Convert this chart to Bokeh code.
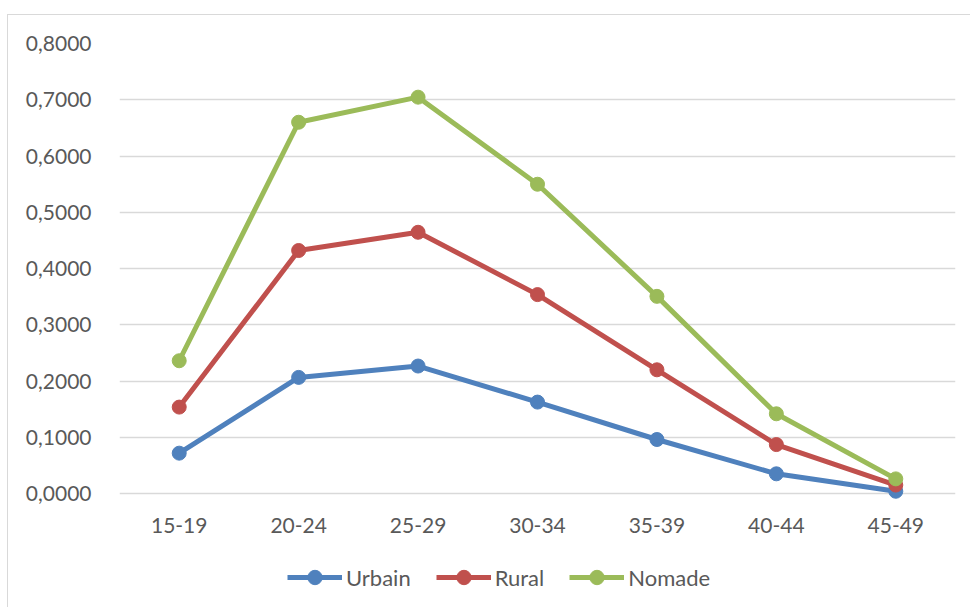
from bokeh.plotting import figure
from bokeh.models import Range1d, FactorRange, FixedTicker, CustomJSTickFormatter, Legend, LegendItem
from bokeh.core.properties import value
from bokeh.embed import file_html
from bokeh.resources import INLINE

categories = ["15-19", "20-24", "25-29", "30-34", "35-39", "40-44", "45-49"]
urbain = [0.0717, 0.2064, 0.2266, 0.1625, 0.0960, 0.0350, 0.0040]
rural = [0.1536, 0.4320, 0.4644, 0.3536, 0.2199, 0.0870, 0.0150]
nomade = [0.2360, 0.6600, 0.7046, 0.5498, 0.3505, 0.1417, 0.0260]
y_ticks = [0.0, 0.1, 0.2, 0.3, 0.4, 0.5, 0.6, 0.7, 0.8]

series = [("Urbain", urbain, "#4F81BD"), ("Rural", rural, "#C0504D"), ("Nomade", nomade, "#9BBB59")]

FONT = "Lato"
TXT = "#595959"

W, H = 963, 593
TOP, LEFT, RIGHT = 28, 111, 16
DATA_PX = 450  # pixel height of the 0..0.8 value band
frame_h = H - TOP
y_min = y_ticks[-1] - (y_ticks[-1] - y_ticks[0]) * frame_h / DATA_PX

p = figure(width=W, height=H, output_backend="svg", toolbar_location=None,
           x_range=FactorRange(*categories, range_padding=0), y_range=Range1d(y_min, y_ticks[-1]),
           min_border_left=LEFT, min_border_right=RIGHT, min_border_top=TOP, min_border_bottom=0)
p.styles = {"border-left": "1px solid #d9d9d9", "border-top": "1px solid #d9d9d9",
            "margin-left": "7px", "margin-top": "14px"}
p.outline_line_color = None
p.background_fill_color = "white"
p.border_fill_color = "white"
p.xaxis.visible = False

p.xgrid.grid_line_color = None
p.ygrid.grid_line_color = "#d9d9d9"
p.ygrid.grid_line_width = 1.3
p.ygrid.ticker = FixedTicker(ticks=y_ticks)

p.yaxis.ticker = FixedTicker(ticks=y_ticks)
p.yaxis.formatter = CustomJSTickFormatter(code="return tick.toFixed(4).replace('.', ',');")
ax = p.yaxis[0]
ax.axis_line_color = None
ax.major_tick_line_color = None
ax.minor_tick_line_color = None
ax.major_tick_out = 0
ax.major_tick_in = 0
ax.minor_tick_out = 0
ax.major_label_text_font = FONT
ax.major_label_text_font_size = "21px"
ax.major_label_text_color = TXT
ax.major_label_standoff = 28

# category labels under the zero line
p.text(x=categories, y=[y_ticks[0]] * len(categories), text=categories, y_offset=32,
       text_align="center", text_baseline="middle", text_font=value(FONT),
       text_font_size="21px", text_color=TXT)

items = []
for name, vals, col in series:
    ln = p.line(categories, vals, line_color=col, line_width=5)
    sc = p.scatter(categories, vals, size=14, fill_color=col, line_color=col)
    items.append(LegendItem(label=name, renderers=[ln, sc]))

legend = Legend(items=items, orientation="horizontal", location=(168, 13),
                glyph_width=55, glyph_height=36, label_standoff=4, spacing=25,
                padding=0, margin=0, border_line_color=None, background_fill_alpha=0,
                label_text_font=FONT, label_text_font_size="22px", label_text_color=TXT)
p.add_layout(legend, "center")

open("out.html", "w").write(file_html(p, INLINE))
